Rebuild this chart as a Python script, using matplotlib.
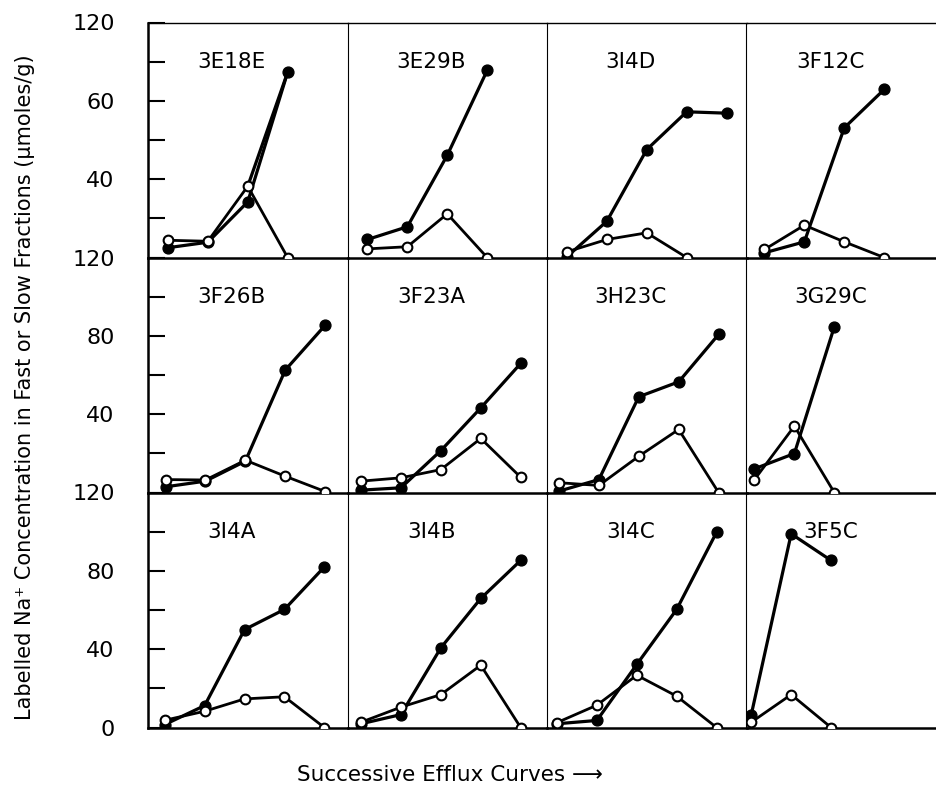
import matplotlib.pyplot as plt

# panel names, read left to right, top to bottom
panels = ['3E18E', '3E29B', '3I4D', '3F12C',
          '3F26B', '3F23A', '3H23C', '3G29C',
          '3I4A', '3I4B', '3I4C', '3F5C']

# filled circles (umoles/g), successive efflux curves
filled_vals = [
    [5.0, 7.8, 28.4, 94.6],
    [9.2, 15.7, 52.2, 95.5],
    [0.4, 18.5, 55.1, 74.4, 73.7],
    [2.4, 8.0, 66.2, 85.8],
    [2.9, 5.8, 16.0, 62.5, 85.4],
    [1.2, 2.4, 21.4, 43.2, 65.9],
    [0.7, 6.6, 48.9, 56.5, 80.7],
    [12.1, 19.9, 84.6],
    [1.5, 11.2, 50.0, 60.3, 82.0],
    [1.9, 6.6, 40.7, 65.9, 85.3],
    [1.9, 3.6, 32.2, 60.3, 99.7],
    [6.6, 98.9, 85.3],
]

# open circles
open_vals = [
    [8.8, 8.3, 36.4, 0.0],
    [4.4, 5.5, 22.3, 0.0],
    [2.9, 9.2, 12.6, 0.0],
    [4.1, 16.5, 8.0, 0.0],
    [6.6, 6.4, 16.5, 8.3, 0.5],
    [5.8, 7.5, 11.7, 27.6, 7.8],
    [5.0, 3.6, 18.5, 32.2, 0.0],
    [6.6, 33.9, 0.0],
    [3.7, 8.3, 14.6, 15.7, 0.0],
    [2.7, 10.4, 16.8, 31.8, 0.0],
    [2.5, 11.4, 26.7, 16.0, 0.0],
    [2.7, 16.8, 0.0],
]

# x value of the first curve in each panel (the drawing drifts a little)
first_curve = [1.0, 1.0, 1.0, 0.95,
               0.94, 0.84, 0.8, 0.7,
               0.92, 0.84, 0.75, 0.62]

# y tick labels on the left column, as printed
row_tick_labels = [
    {120: '120', 80: '60', 40: '40'},
    {120: '120', 80: '80', 40: '40'},
    {120: '120', 80: '80', 40: '40', 0: '0'},
]

fig = plt.figure(figsize=(9.37, 7.92), dpi=100)

left0 = 148 / 937
col_w = 199.5 / 937
top0 = 1 - 22.5 / 792
row_h = 235 / 792

for k, name in enumerate(panels):
    r, c = divmod(k, 4)
    ax = fig.add_axes([left0 + c * col_w, top0 - (r + 1) * row_h, col_w, row_h])
    ax.set_xlim(0.5, 5.5)
    ax.set_ylim(0, 120)
    ax.patch.set_alpha(0)

    xf = [first_curve[k] + i for i in range(len(filled_vals[k]))]
    xo = [first_curve[k] + i for i in range(len(open_vals[k]))]
    ax.plot(xf, filled_vals[k], color='black', lw=2.3, marker='o', ms=7.8,
            mfc='black', mec='black', zorder=3)
    if name == '3E18E':
        # second stroke up to the last filled point
        ax.plot([xo[2], xf[3]], [open_vals[k][2], filled_vals[k][3]],
                color='black', lw=2.3, zorder=3)
    ax.plot(xo, open_vals[k], color='black', lw=2.0, marker='o', ms=7,
            mfc='white', mec='black', mew=1.5, zorder=4)

    ax.text(0.42, 0.83, name, transform=ax.transAxes, fontsize=15.5,
            ha='center', va='center')

    ax.spines['right'].set_visible(False)
    ax.spines['top'].set_visible(r == 0)
    ax.spines['top'].set_linewidth(1.0)
    ax.spines['bottom'].set_linewidth(1.8)
    ax.spines['left'].set_linewidth(1.8 if c == 0 else 0.8)

    ax.set_xticks([])
    if c == 0:
        ax.set_yticks(range(0, 121, 20))
        labels = row_tick_labels[r]
        ax.set_yticklabels([labels.get(v, '') for v in range(0, 121, 20)])
        ax.tick_params(axis='y', direction='in', length=12, width=1.5,
                       labelsize=16, pad=24)
    else:
        ax.set_yticks([])

fig.text(25 / 937, 1 - 387 / 792,
         'Labelled Na⁺ Concentration in Fast or Slow Fractions (μmoles/g)',
         rotation=90, ha='center', va='center', fontsize=15)
fig.text(450 / 937, 1 - 775 / 792, 'Successive Efflux Curves ⟶',
         ha='center', va='center', fontsize=15.5)

fig.savefig('out.png', dpi=100)
